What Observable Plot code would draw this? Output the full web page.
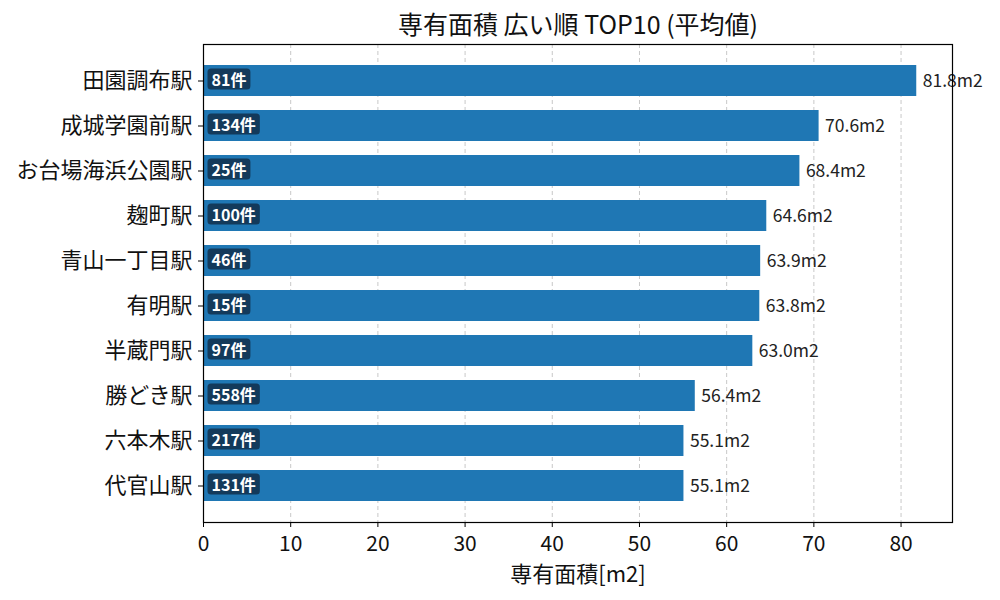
<!DOCTYPE html>
<html><head><meta charset="utf-8">
<script src="https://cdn.jsdelivr.net/npm/d3@7"></script>
<script src="https://cdn.jsdelivr.net/npm/@observablehq/plot@0.6"></script>
<style>
body{margin:0;background:#fff;}
svg{font-family:"Noto Sans CJK JP","Noto Sans",sans-serif;}
</style></head>
<body><div id="chart"></div>
<script>
const stations = ["田園調布駅","成城学園前駅","お台場海浜公園駅","麹町駅","青山一丁目駅","有明駅","半蔵門駅","勝どき駅","六本木駅","代官山駅"];
const areas = [81.8,70.6,68.4,64.6,63.9,63.8,63.0,56.4,55.1,55.1];
const counts = [81,134,25,100,46,15,97,558,217,131];
const xTicks = [0,10,20,30,40,50,60,70,80];

const data = stations.map((s,i)=>({station:s, area:areas[i], count:counts[i]}));

const chart = Plot.plot({
  width:1000, height:600,
  marginTop:44, marginBottom:78, marginLeft:203, marginRight:48,
  style:{fontFamily:'"Noto Sans CJK JP","Noto Sans",sans-serif', background:"#fff"},
  x:{domain:[0,85.9], ticks:xTicks, label:null, tickSize:5},
  y:{domain:stations, paddingInner:0.3, paddingOuter:0.46, label:null, tickSize:5},
  marks:[
    Plot.gridX(xTicks,{stroke:"#c8c8c8", strokeOpacity:1, strokeDasharray:"4,3"}),
    Plot.barX(data,{x:"area", y:"station", fill:"#1f77b4"}),
    Plot.text(data,{x:"area", y:"station", text:d=>d.area.toFixed(1)+"m2", textAnchor:"start", dx:6, fontSize:17.5, fill:"#222"}),
    Plot.text(data,{x:0, y:"station", text:d=>d.count+"件", textAnchor:"start", dx:8, fontSize:16, fontWeight:"bold", fill:"#fff", className:"cnt"}),
    Plot.frame({stroke:"#000", strokeWidth:1.2}),
    Plot.axisX({ticks:xTicks, fontSize:21, tickSize:5, tickPadding:9, label:null, fill:"#111"}),
    Plot.axisY({fontSize:22, tickSize:5, tickPadding:6, label:null, fill:"#111"}),
    Plot.text(["専有面積 広い順 TOP10 (平均値)"],{frameAnchor:"top", lineAnchor:"middle", dy:-19, fontSize:25, fill:"#111"}),
    Plot.text(["専有面積[m2]"],{frameAnchor:"bottom", lineAnchor:"middle", dy:52, fontSize:22, fill:"#111"})
  ]
});
document.getElementById("chart").append(chart);

// background boxes behind count labels
d3.select(chart).selectAll("g.cnt text").each(function(){
  const bb = this.getBBox();
  const tr = this.getAttribute("transform");
  const r = document.createElementNS("http://www.w3.org/2000/svg","rect");
  const cy = bb.y + bb.height/2;
  r.setAttribute("x", bb.x-4); r.setAttribute("y", cy-10.5);
  r.setAttribute("width", bb.width+8); r.setAttribute("height", 21);
  r.setAttribute("rx", 3.5); r.setAttribute("fill", "#133a5b");
  if (tr) r.setAttribute("transform", tr);
  this.parentNode.insertBefore(r, this);
});
</script>
</body></html>
